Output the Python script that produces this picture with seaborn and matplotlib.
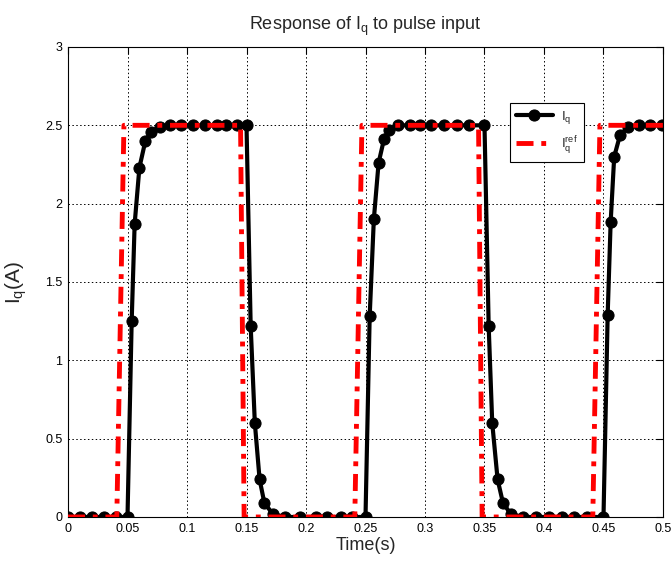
import matplotlib
matplotlib.use("Agg")
import seaborn as sns
from matplotlib import pyplot as plt

t_iq = [0.0, 0.01, 0.02, 0.03, 0.04, 0.05,
        0.0535, 0.056, 0.060, 0.065, 0.070, 0.077, 0.086, 0.095, 0.105, 0.115, 0.125, 0.133, 0.142, 0.150,
        0.1535, 0.157, 0.161, 0.165, 0.172, 0.182, 0.195, 0.208, 0.218, 0.229, 0.239, 0.250,
        0.2535, 0.257, 0.261, 0.2655, 0.270, 0.277, 0.287, 0.296, 0.305, 0.316, 0.327, 0.337, 0.350,
        0.3535, 0.3565, 0.361, 0.3655, 0.372, 0.382, 0.393, 0.404, 0.415, 0.425, 0.436, 0.450,
        0.4535, 0.456, 0.459, 0.464, 0.471, 0.480, 0.489, 0.499]
iq = [0.0, 0.0, 0.0, 0.0, 0.0, 0.0,
      1.25, 1.87, 2.23, 2.40, 2.46, 2.49, 2.5, 2.5, 2.5, 2.5, 2.5, 2.5, 2.5, 2.5,
      1.22, 0.60, 0.24, 0.09, 0.02, 0.0, 0.0, 0.0, 0.0, 0.0, 0.0, 0.0,
      1.28, 1.90, 2.26, 2.41, 2.47, 2.5, 2.5, 2.5, 2.5, 2.5, 2.5, 2.5, 2.5,
      1.22, 0.60, 0.24, 0.09, 0.02, 0.0, 0.0, 0.0, 0.0, 0.0, 0.0, 0.0,
      1.29, 1.88, 2.30, 2.44, 2.49, 2.5, 2.5, 2.5]

# reference pulse
t_ref = [0.0, 0.041, 0.047, 0.145, 0.148, 0.241, 0.247, 0.345, 0.348, 0.441, 0.447, 0.5]
iq_ref = [0.0, 0.0, 2.5, 2.5, 0.0, 0.0, 2.5, 2.5, 0.0, 0.0, 2.5, 2.5]

xticks = [0, 0.05, 0.1, 0.15, 0.2, 0.25, 0.3, 0.35, 0.4, 0.45, 0.5]
xticklabels = ['0', '0.05', '0.1', '0.15', '0.2', '0.25', '0.3', '0.35', '0.4', '0.45', '0.5']
yticks = [0, 0.5, 1, 1.5, 2, 2.5, 3]
yticklabels = ['0', '0.5', '1', '1.5', '2', '2.5', '3']

sns.set_style("white")
plt.rcParams['font.family'] = ['Liberation Sans', 'DejaVu Sans']
plt.rcParams['mathtext.default'] = 'regular'

fig = plt.figure(figsize=(6.72, 5.62), dpi=100)
ax = fig.add_axes([0.1012, 0.0801, 0.8854, 0.8363])

sns.lineplot(x=t_iq, y=iq, ax=ax, sort=False, estimator=None, color='black',
             linewidth=3, marker='o', markersize=8, markeredgecolor='black',
             label='$I_q$', zorder=3)
sns.lineplot(x=t_ref, y=iq_ref, ax=ax, sort=False, estimator=None, color='red',
             linewidth=3.5, label='$I_q^{ref}$', zorder=4)
ax.lines[-1].set_dashes([3.5, 1.6, 1.0, 1.6])

ax.set_xlim(0, 0.5)
ax.set_ylim(0, 3)
ax.set_xticks(xticks)
ax.set_xticklabels(xticklabels)
ax.set_yticks(yticks)
ax.set_yticklabels(yticklabels)
ax.tick_params(direction='in', length=5, width=0.8, labelsize=9, colors='black',
               top=True, right=True, pad=4)
ax.grid(True, color='black', linestyle=(0, (1.5, 2.5)), linewidth=0.7)
for s in ax.spines.values():
    s.set_color('black')
    s.set_linewidth(0.8)

ax.set_title('Response of $I_q$ to pulse input', fontsize=13, pad=12)
ax.set_xlabel('Time(s)', fontsize=13, labelpad=2)
ax.set_ylabel('$I_q$(A)', fontsize=15, labelpad=12)

leg = ax.legend(loc='upper left', bbox_to_anchor=(0.743, 0.881), borderaxespad=0,
                fontsize=9.5, handlelength=2.8, handletextpad=0.6, frameon=True,
                fancybox=False, framealpha=1, edgecolor='black', borderpad=0.45,
                labelspacing=0.6)
leg.get_frame().set_linewidth(0.8)

fig.savefig('out.png', dpi=100)
